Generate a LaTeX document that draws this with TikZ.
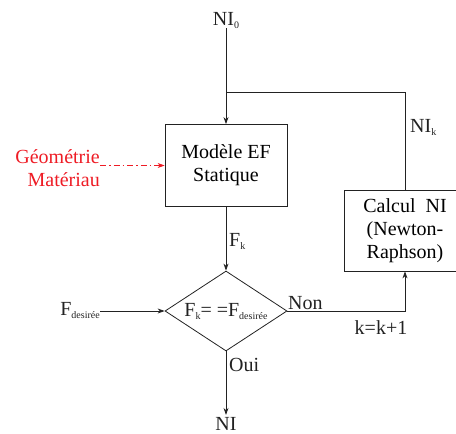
\documentclass[tikz,border=0pt]{standalone}
\usepackage{fontspec}
\setmainfont{Liberation Serif}
\usetikzlibrary{arrows.meta,shapes.geometric}
\newcommand{\lowsub}[1]{\raisebox{-3pt}{\fontsize{10}{10}\selectfont #1}}
\definecolor{lc}{HTML}{222222}
\definecolor{rd}{HTML}{EE1C25}
\begin{document}
\begin{tikzpicture}[x=1pt,y=-1pt,
  font=\fontsize{20}{23}\selectfont,
  line/.style={draw=lc, line width=0.8pt},
  arr/.style={line, -{Stealth[length=7pt,width=5pt]}},
  box/.style={draw=lc, line width=0.8pt, align=center, inner sep=0pt,
              minimum width=122pt},
  lbl/.style={inner sep=0pt, text=lc}]
\useasboundingbox (0,0) rectangle (456,434);
% boxes
\node[box, minimum height=82pt] (m) at (226,165.5) {Modèle EF\\Statique};
\node[box, minimum height=81pt] (c) at (405,230.5) {Calcul\ \ NI\\(Newton-\\Raphson)};
\node[diamond, draw=lc, line width=0.8pt, minimum width=122pt,
      minimum height=80pt, inner sep=0pt] (d) at (226,311) {};
\node[lbl, anchor=base] (dt) at (226,316) {F\lowsub{k}= =F\lowsub{desirée}};
% labels
\node[lbl, anchor=base] (ni0) at (226,25) {NI\lowsub{0}};
\node[lbl, anchor=base west] (nik) at (410,132) {NI\lowsub{k}};
\node[lbl, anchor=base west] (fk) at (229,246) {F\lowsub{k}};
\node[lbl, anchor=base east] (fd) at (100,315) {F\lowsub{desirée}};
\node[lbl, anchor=base west] (non) at (288,309) {Non};
\node[lbl, anchor=base] (kk) at (381,334) {k=k+1};
\node[lbl, anchor=base west] (oui) at (229,371) {Oui};
\node[lbl, anchor=base, outer sep=2pt] (ni) at (226,430) {NI};
\node[inner sep=0pt, text=rd, align=right, anchor=east] (geo) at (100,168)
  {Géométrie\\Matériau};
\coordinate (j) at (226,92);
% connectors
\draw[arr] (ni0.south) -- (m.north);
\draw[line] (j) -| (c.north);
\draw[arr] (m.south) -- (d.north);
\draw[arr] (fd.east |- d.west) -- (d.west);
\draw[arr] (d.east) -| (c.south);
\draw[arr] (d.south) -- (ni.north);
\draw[draw=rd, line width=0.8pt, dash pattern=on 6pt off 3pt on 1.5pt off 3pt,
      -{Stealth[length=7pt,width=5pt]}] (geo.east |- m.west) -- (m.west);
\end{tikzpicture}
\end{document}
